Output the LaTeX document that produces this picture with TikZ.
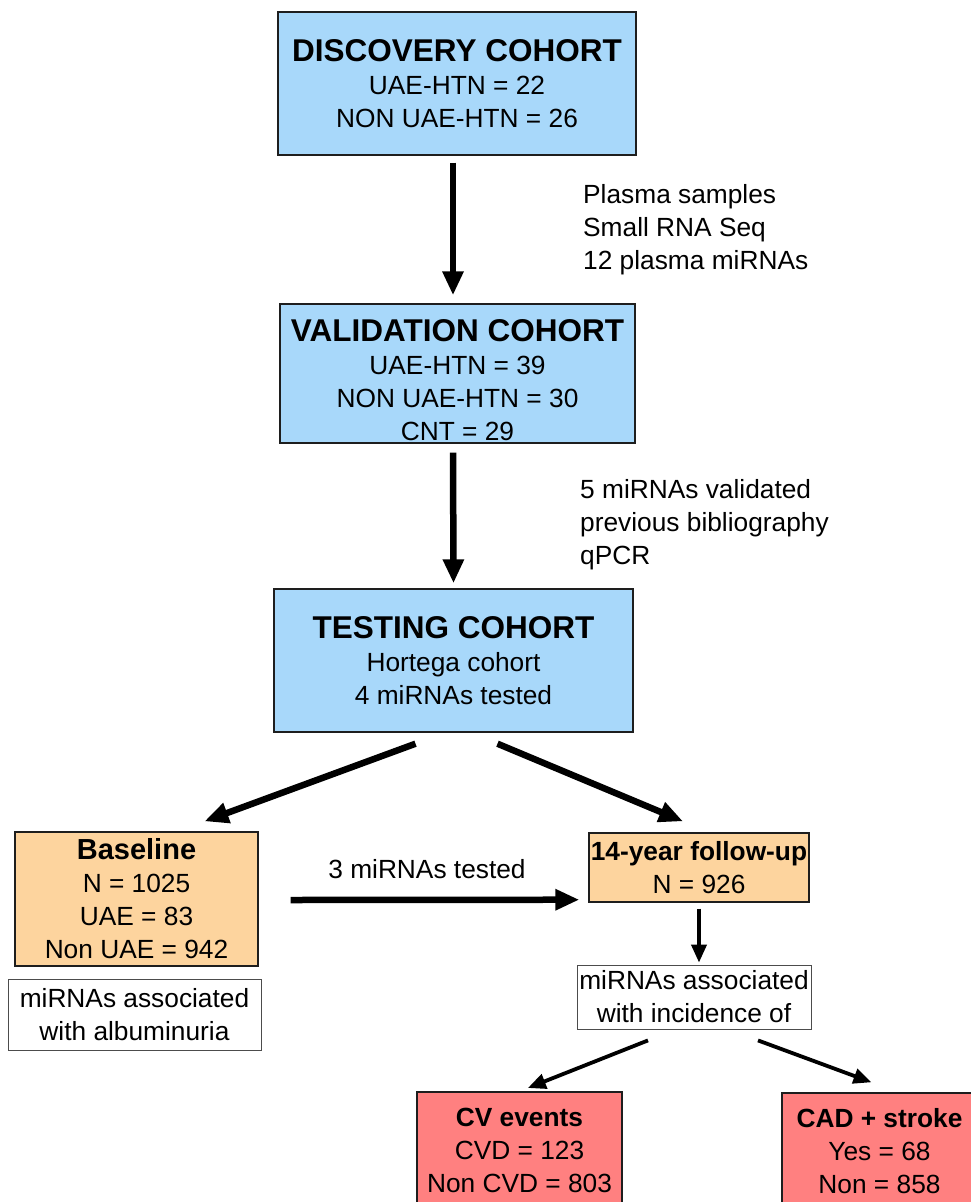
\documentclass[tikz,border=0pt]{standalone}
\usepackage{fontspec}
\setmainfont{Liberation Sans}
\usetikzlibrary{arrows.meta,positioning,calc}
\definecolor{ink}{RGB}{30,30,30}
\definecolor{cohortblue}{RGB}{168,216,250}
\definecolor{stageorange}{RGB}{253,212,158}
\definecolor{eventred}{RGB}{255,128,128}
\newcommand\boxtitle[2][31.5]{{\fontsize{#1}{33}\selectfont\bfseries #2}}

\begin{document}
\begin{tikzpicture}[
    x=1pt,y=-1pt,
    every node/.style={font=\fontsize{26.3}{33}\selectfont, text=black},
    box/.style={
        draw=ink,
        line width=1.4pt,
        inner sep=0pt,
        align=center
    },
    cohort/.style={box, fill=cohortblue},
    stage/.style={box, fill=stageorange},
    event/.style={box, fill=eventred},
    note/.style={box, draw=black!70, line width=0.8pt, fill=white},
    lbl/.style={align=left, inner sep=0pt},
    bigarr/.style={-{Triangle[length=24pt,width=20pt]}, line width=6.5pt},
    smallarr/.style={-{Triangle[length=18pt,width=15pt]}, line width=3.8pt}
]

% Page
\useasboundingbox (0,0) rectangle (971,1202);
\clip (0,0) rectangle (971,1202);

% Cohorts
\node[cohort, minimum width=358pt, minimum height=143pt] (discovery) at (457,83.5)
    {\boxtitle{DISCOVERY COHORT}\\UAE-HTN = 22\\NON UAE-HTN = 26};
\node[cohort, minimum width=355pt, minimum height=139pt] (validation) at (457.5,373.5)
    {\boxtitle{\rule{0pt}{35pt}VALIDATION COHORT}\\UAE-HTN = 39\\NON UAE-HTN = 30\\CNT = 29};
\node[cohort, minimum width=359pt, minimum height=143pt] (testing) at (453.5,660.5)
    {\boxtitle{TESTING COHORT}\\Hortega cohort\\4 miRNAs tested};

% Side notes
\node[lbl, anchor=west] (rnaseq) at (583,230) {Plasma samples\\Small RNA Seq\\12 plasma miRNAs};
\node[lbl, anchor=west] (qpcr) at (580,525) {5 miRNAs validated\\previous bibliography\\qPCR};

% Baseline and follow-up
\node[stage, minimum width=243pt, minimum height=134pt] (baseline) at (136.5,899)
    {\boxtitle[29]{Baseline}\\N = 1025\\UAE = 83\\Non UAE = 942};
\node[note, minimum width=253pt, minimum height=71pt] (albumin) at (134.5,1014.5)
    {miRNAs associated\\with albuminuria};
\node[stage, minimum width=220pt, minimum height=69pt] (followup) at (699,867.5)
    {\boxtitle[26.3]{14-year follow-up}\\N = 926};
\node[note, minimum width=234pt, minimum height=64pt] (incidence) at (694,997)
    {miRNAs associated\\with incidence of};
\node (tested) at (427,869) {3 miRNAs tested};

% Events
\node[event, minimum width=205pt, minimum height=116pt] (cv) at (519.5,1150)
    {\boxtitle[26.3]{CV events}\\CVD = 123\\Non CVD = 803};
\node[event, minimum width=195pt, minimum height=116pt] (cad) at (879.5,1151)
    {\boxtitle[26.3]{CAD + stroke}\\Yes = 68\\Non = 858};

% Arrow ends
\coordinate (splitleft) at ($(testing.south)+(-38,11)$);
\coordinate (splitright) at ($(testing.south)+(44,11)$);
\coordinate (baselinein) at ($(baseline.north)+(68,-10)$);
\coordinate (followin) at ($(followup.north)+(-16,-11)$);
\coordinate (testedout) at ($(baseline.east)+(32,1)$);
\coordinate (testedin) at ($(followup.south west)+(-9,-3)$);
\coordinate (incleft) at ($(incidence.south)+(-46,11)$);
\coordinate (incright) at ($(incidence.south)+(64,11)$);
\coordinate (cadin) at ($(cad.north)+(-8,-10)$);

% Arrows
\draw[bigarr, shorten <=7pt, shorten >=8pt] ([xshift=-4pt]discovery.south) -- ([xshift=-4.5pt]validation.north);
\draw[bigarr, shorten <=9pt, shorten >=5pt] ([xshift=-4.5pt]validation.south) -- (testing.north);
\draw[bigarr] (splitleft) -- (baselinein);
\draw[bigarr] (splitright) -- (followin);
\draw[bigarr] (testedout) -- (testedin);
\draw[smallarr, shorten <=6pt, shorten >=2pt] (followup.south) -- (followup.south |- incidence.north);
\draw[smallarr, shorten >=9pt] (incleft) -- (cv.north);
\draw[smallarr] (incright) -- (cadin);

\end{tikzpicture}
\end{document}
